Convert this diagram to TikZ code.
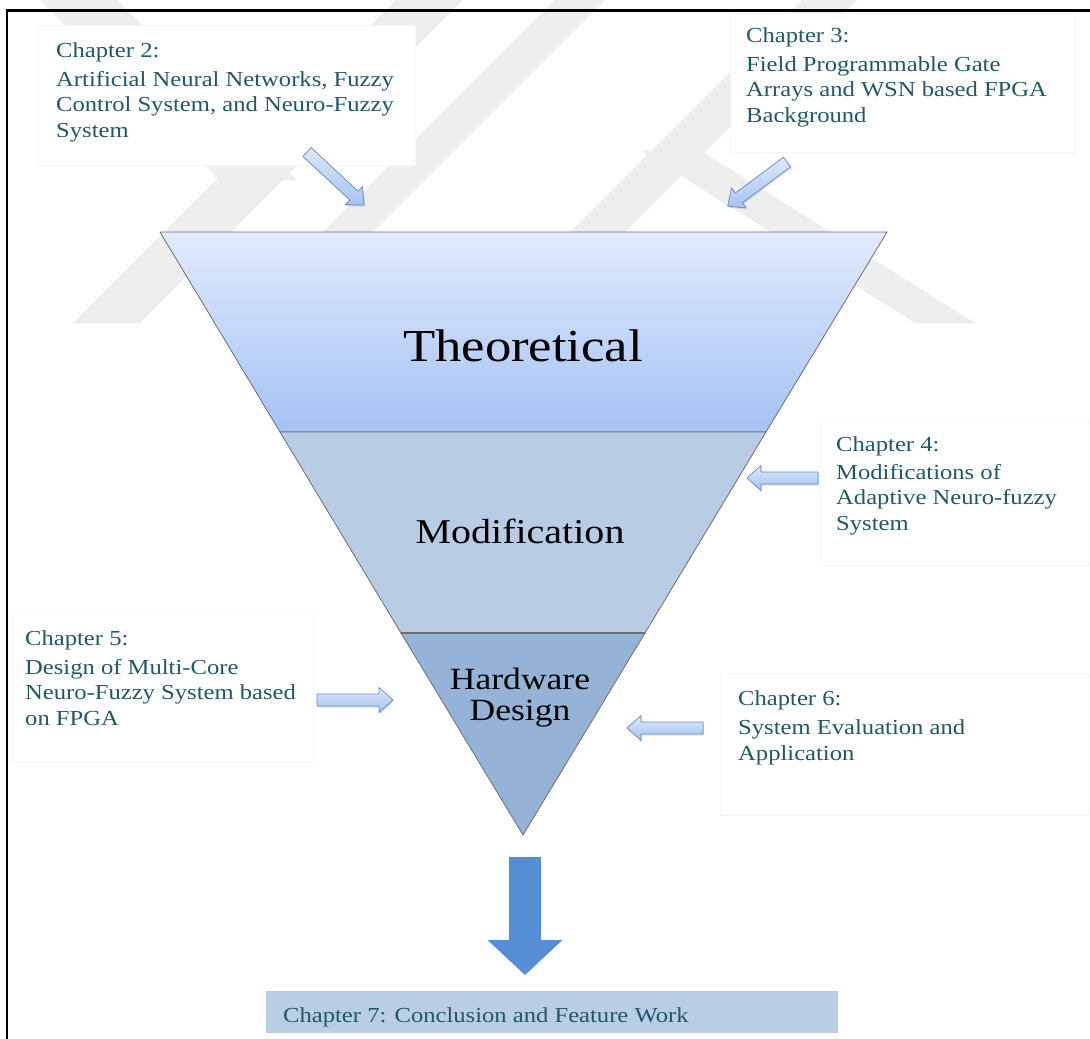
\documentclass[tikz,border=0pt]{standalone}
\usepackage{fontspec}
\setmainfont{Liberation Serif}
\newfontfamily\chapfont[FakeStretch=1.15]{Liberation Serif}
\newfontfamily\layerfont[FakeStretch=1.15]{Liberation Serif}
\usetikzlibrary{shadows}

\definecolor{chapteal}{HTML}{205867}
\definecolor{wmgray}{HTML}{EEEEEE}
\definecolor{theotop}{RGB}{225,235,252}
\definecolor{theobot}{RGB}{164,194,244}
\definecolor{modfill}{RGB}{184,204,228}
\definecolor{hwfill}{RGB}{149,179,215}
\definecolor{layeredge}{RGB}{110,110,110}
\definecolor{arrowtop}{RGB}{222,233,250}
\definecolor{arrowbot}{RGB}{166,195,240}
\definecolor{arrowedge}{RGB}{95,140,205}
\definecolor{bigarrow}{RGB}{85,142,213}
\definecolor{concfill}{RGB}{185,205,229}

\tikzset{
  wm/.style={fill=wmgray, draw=none},
  chapbox/.style={fill=white, draw=gray!7, line width=0.6pt},
  chaptext/.style={anchor=base west, inner sep=0pt, align=left, text=chapteal,
    font=\chapfont\fontsize{21.4}{25.5}\selectfont},
  layer/.style={draw=layeredge, line width=0.8pt, line join=round},
  layertext/.style={anchor=base, inner sep=0pt, align=center, text=black},
  smallarrow/.style={draw=arrowedge, line width=0.7pt, line join=round,
    top color=arrowtop, bottom color=arrowbot,
    drop shadow={opacity=0.25, shadow xshift=1pt, shadow yshift=-1.5pt}},
}

% block arrow starting at a named tail, given its direction and length
\newcommand{\blockarrow}[3]{%
  \begin{scope}[shift={(#1)}, rotate=#2]
    \path[smallarrow] (0,-6) -- ({#3-14},-6) -- ({#3-14},-12.5) -- (#3,0)
      -- ({#3-14},12.5) -- ({#3-14},6) -- (0,6) -- cycle;
  \end{scope}}

\begin{document}
\begin{tikzpicture}[x=1pt, y=-1pt]
\useasboundingbox (0,0) rectangle (1090,1039);
\fill[white] (0,0) rectangle (1090,1039);

% faint background logo bands
\path[wm] (73,323) -- (140,323) -- (463,0) -- (396,0) -- cycle;
\path[wm] (323,232) -- (373,232) -- (605,0) -- (555,0) -- cycle;
\path[wm] (640,150) -- (700,150) -- (975,323) -- (915,323) -- cycle;
\path[wm] (570,232) -- (625,232) -- (857,0) -- (802,0) -- cycle;
\path[wm] (40,0) -- (117,0) -- (297,180) -- (220,180) -- cycle;

% page frame
\draw[line width=2.5pt] (7,1039) -- (7,10.5) -- (1090,10.5);

% chapter text boxes
\path[chapbox] (38,25) rectangle (415,165);
\path[chapbox] (730,13) rectangle (1075,152);
\path[chapbox] (820,420) rectangle (1089,565);
\path[chapbox] (12,612) rectangle (313,762);
\path[chapbox] (720,673) rectangle (1089,815);

% (each text is placed by the baseline of its last line)
\node[chaptext] (ch2) at (56,137) {Chapter 2:\\[3.5pt]Artificial Neural Networks, Fuzzy\\Control System, and Neuro-Fuzzy\\System};
\node[chaptext] (ch3) at (746,122) {Chapter 3:\\[3.5pt]Field Programmable Gate\\Arrays and WSN based FPGA\\Background};
\node[chaptext] (ch4) at (836,530) {Chapter 4:\\[2.5pt]Modifications of\\Adaptive Neuro-fuzzy\\System};
\node[chaptext] (ch5) at (25,725) {Chapter 5:\\[3.5pt]Design of Multi-Core\\Neuro-Fuzzy System based\\on FPGA};
\node[chaptext] (ch6) at (738,760) {Chapter 6:\\[3.5pt]System Evaluation and\\Application};

% funnel layers
\path[layer, top color=theotop, bottom color=theobot]
  (160,232) -- (887,232) -- (766,432) -- (280,432) -- cycle;
\path[layer, fill=modfill] (280,432) -- (766,432) -- (645,633) -- (401,633) -- cycle;
\path[layer, fill=hwfill] (401,633) -- (645,633) -- (523,835) -- cycle;
\draw[layeredge, line width=1.6pt] (401,633) -- (645,633);

\node[layertext, font=\layerfont\fontsize{45.8}{50}\selectfont] (theo) at (523,361) {Theoretical};
\node[layertext, font=\layerfont\fontsize{34.8}{40}\selectfont] (modi) at (520,543) {Modification};
\node[layertext, font=\layerfont\fontsize{30.9}{31}\selectfont] (hwd) at (520,720) {Hardware\\Design};

% arrows from the chapters into the funnel
\coordinate (t2) at (307,152);
\coordinate (t3) at (787,162);
\coordinate (t4) at (818,478);
\coordinate (t5) at (317,700);
\coordinate (t6) at (703,728);
\blockarrow{t2}{-42.9}{78}
\blockarrow{t3}{216.7}{74}
\blockarrow{t4}{180}{71}
\blockarrow{t5}{0}{76}
\blockarrow{t6}{180}{76}

% conclusion
\node[fill=concfill, anchor=north west, minimum width=572pt, minimum height=42pt, inner sep=0pt] (ch7box) at (266,991) {};
\node[chaptext] (ch7) at (283,1022) {Chapter 7: Conclusion and Feature Work};

% big arrow down to the conclusion
\coordinate (bigtail) at (525,857);
\begin{scope}[shift={(bigtail)}]
  \path[fill=bigarrow] (-16,0) -- (16,0) -- (16,83) -- (37.5,83) -- (0,118)
    -- (-37.5,83) -- (-16,83) -- cycle;
\end{scope}
\end{tikzpicture}
\end{document}
